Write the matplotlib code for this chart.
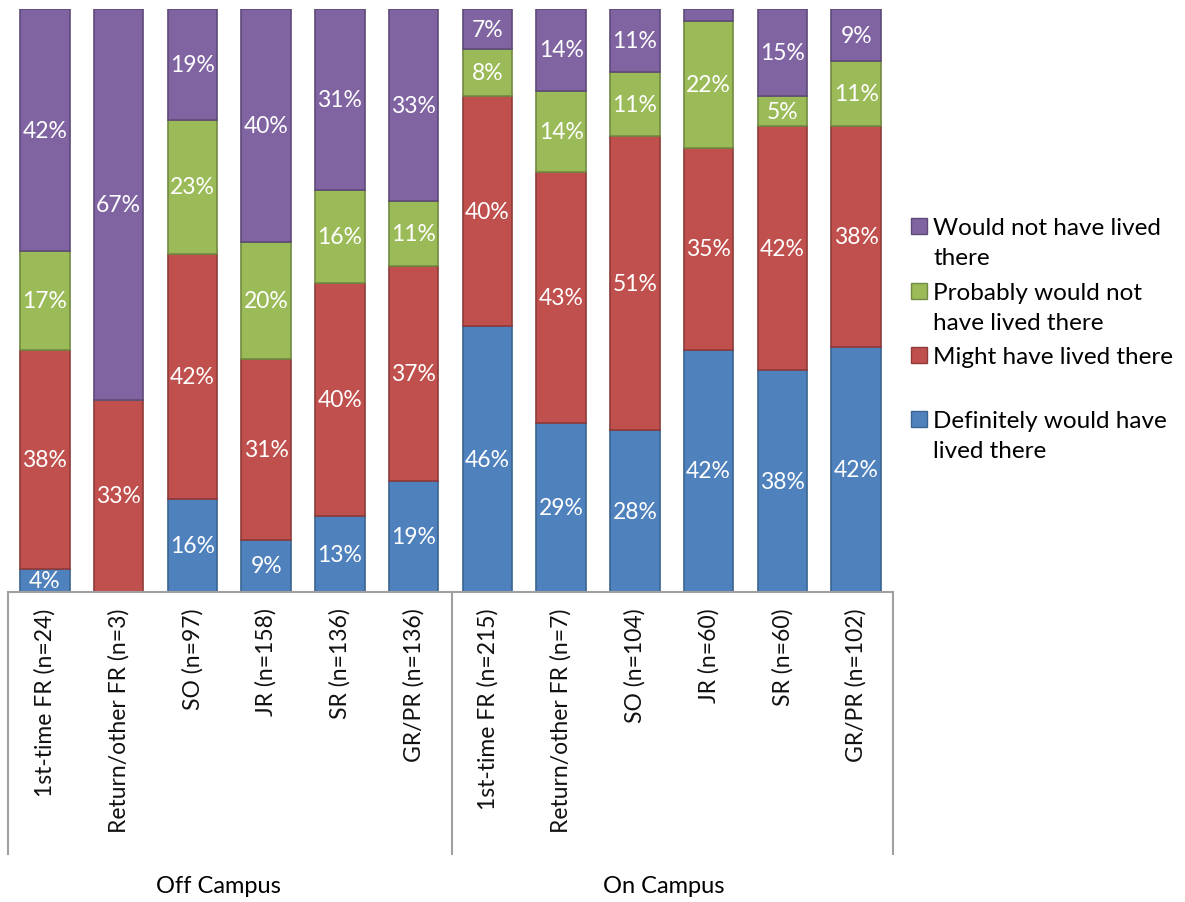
import matplotlib.pyplot as plt
import numpy as np
from matplotlib.lines import Line2D
from matplotlib.patches import Rectangle

categories = [
    "1st-time FR (n=24)", "Return/other FR (n=3)", "SO (n=97)", "JR (n=158)",
    "SR (n=136)", "GR/PR (n=136)",
    "1st-time FR (n=215)", "Return/other FR (n=7)", "SO (n=104)", "JR (n=60)",
    "SR (n=60)", "GR/PR (n=102)",
]
groups = ["Off Campus", "On Campus"]

definitely = [4, 0, 16, 9, 13, 19, 46, 29, 28, 42, 38, 42]
might = [38, 33, 42, 31, 40, 37, 40, 43, 51, 35, 42, 38]
probably_not = [17, 0, 23, 20, 16, 11, 8, 14, 11, 22, 5, 11]
would_not = [42, 67, 19, 40, 31, 33, 7, 14, 11, 2, 15, 9]

series = [
    ("Definitely would have\nlived there", definitely, "#4F81BD", "#3A6390"),
    ("Might have lived there", might, "#C0504D", "#8E3B39"),
    ("Probably would not\nhave lived there", probably_not, "#9BBB59", "#728A42"),
    ("Would not have lived\nthere", would_not, "#8064A2", "#5E4A78"),
]

W, H = 1185, 903
FONT = "Lato"

fig = plt.figure(figsize=(W / 100, H / 100), dpi=100)
ax = fig.add_axes([8 / W, (H - 593) / H, 885 / W, 583 / H])

x = np.arange(len(categories))
totals = np.sum([s[1] for s in series], axis=0)
bottom = np.zeros(len(categories))
for label, vals, color, edge in series:
    vals = np.array(vals, dtype=float)
    share = vals / totals * 100  # 100% stacked
    ax.bar(x, share, bottom=bottom, width=0.67, color=color,
           edgecolor=edge, linewidth=1.2)
    for xi, v, s, b in zip(x, vals, share, bottom):
        if v >= 3:
            ax.text(xi, b + s / 2, f"{int(v)}%", ha="center", va="center",
                    color="white", fontsize=16.5, family=FONT)
    bottom += share

ax.set_xlim(-0.5, len(categories) - 0.5)
ax.set_ylim(0, 100)
ax.set_yticks([])
for side in ["top", "right", "left", "bottom"]:
    ax.spines[side].set_visible(False)
ax.set_xticks(x)
ax.set_xticklabels(categories, rotation=90, fontsize=16.5, family=FONT,
                   va="top", color="#111111")
ax.tick_params(axis="x", length=0, pad=11)


def fig_line(x0, y0, x1, y1):
    fig.add_artist(Line2D([x0 / W, x1 / W], [1 - y0 / H, 1 - y1 / H],
                          color="#A0A0A0", linewidth=1.5,
                          transform=fig.transFigure))


# category axis box
fig_line(8, 593, 893, 593)
for xv in (8, 452, 893):
    fig_line(xv, 593, xv, 855)

fig.text(218 / W, 1 - 887 / H, groups[0], ha="center", va="center",
         fontsize=17, family=FONT)
fig.text(664 / W, 1 - 887 / H, groups[1], ha="center", va="center",
         fontsize=17, family=FONT)

# legend, top to bottom
legend_rows = [
    (series[3], 227),
    (series[2], 292),
    (series[1], 356),
    (series[0], 420),
]
for (label, _, color, edge), y in legend_rows:
    fig.add_artist(Rectangle((911 / W, 1 - (y + 8) / H), 16 / W, 16 / H,
                             facecolor=color, edgecolor=edge, linewidth=1,
                             transform=fig.transFigure))
    fig.text(933 / W, 1 - (y - 9) / H, label, ha="left", va="top",
             fontsize=17.5, family=FONT, linespacing=1.55)

fig.savefig("out.png", dpi=100)
